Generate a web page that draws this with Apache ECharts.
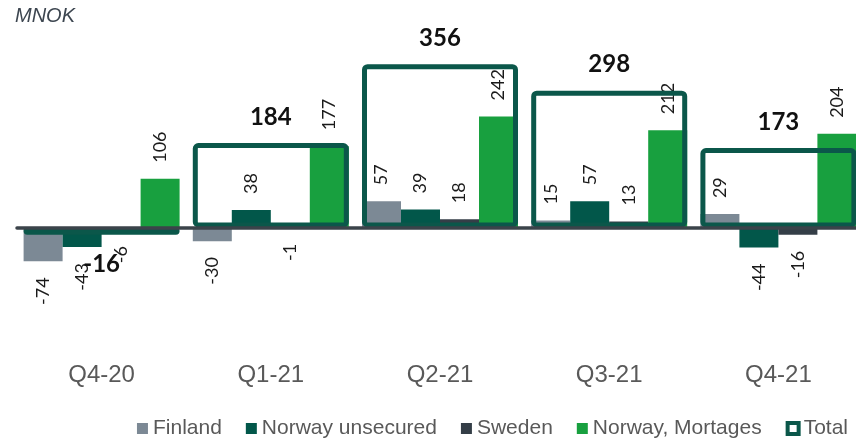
<!DOCTYPE html>
<html>
<head>
<meta charset="utf-8">
<script src="https://cdn.jsdelivr.net/npm/echarts@6/dist/echarts.min.js"></script>
<style>
  html, body { margin: 0; padding: 0; background: #fff; }
  #chart { width: 856px; height: 438px; }
</style>
</head>
<body>
<div id="chart"></div>
<script>
const categories = ['Q4-20', 'Q1-21', 'Q2-21', 'Q3-21', 'Q4-21']
const finland = [-74, -30, 57, 15, 29]
const norwayUnsecured = [-43, 38, 39, 57, -44]
const sweden = [-6, -1, 18, 13, -16]
const norwayMortgages = [106, 177, 242, 212, 204]
const total = [-16, 184, 356, 298, 173]

const colors = {
    finland: '#7c8995',
    unsecured: '#02574a',
    sweden: '#343e47',
    mortgages: '#18a03f',
    total: '#0b574a'
}

const valueFont = { fontFamily: 'Lato', fontSize: 18, color: '#1a1a1a' }

// rotated labels: above positive bars, below negative ones
const barLabel = v => v < 0
    ? { show: true, position: 'bottom', distance: 16, rotate: 90, align: 'right', verticalAlign: 'middle', ...valueFont }
    : { show: true, position: 'top', distance: 16, rotate: 90, align: 'left', verticalAlign: 'middle', ...valueFont }

const totalLabel = v => ({
    show: true,
    position: v < 0 ? 'bottom' : 'top',
    distance: v < 0 ? 18 : 14,
    fontFamily: 'Lato',
    fontWeight: 'bold',
    fontSize: 24,
    color: '#111'
})

const barSeries = (name, data, color) => ({
    name: name,
    type: 'bar',
    xAxisIndex: 0,
    barWidth: 39,
    barGap: '0%',
    z: 2,
    itemStyle: { color: color },
    data: data.map(v => ({ value: v, label: barLabel(v) }))
})

const chart = echarts.init(document.getElementById('chart'), null, { renderer: 'canvas' })

chart.setOption({
    animation: false,
    backgroundColor: '#fff',
    title: {
        text: 'MNOK',
        left: 10,
        top: 1,
        textStyle: { fontFamily: 'Liberation Sans', fontStyle: 'italic', fontWeight: 'normal', fontSize: 20, color: '#3d4650' }
    },
    legend: {
        right: 3,
        top: 413,
        itemWidth: 11,
        itemHeight: 11,
        itemGap: 24,
        icon: 'rect',
        textStyle: { fontFamily: 'Liberation Sans', fontSize: 21, color: '#595959' },
        data: [
            'Finland',
            'Norway unsecured',
            'Sweden',
            'Norway, Mortages',
            { name: 'Total', itemStyle: { color: '#fff', borderColor: colors.total, borderWidth: 4 } }
        ]
    },
    grid: { left: 17, width: 846, top: 44, bottom: 96, outerBoundsMode: 'none' },
    xAxis: [
        {
            type: 'category',
            data: categories,
            position: 'bottom',
            axisLine: { show: false, onZero: false },
            axisTick: { show: false },
            axisLabel: { color: '#595959', fontFamily: 'Liberation Sans', fontSize: 24, margin: 21 }
        },
        {
            // zero line
            type: 'category',
            data: categories,
            position: 'bottom',
            z: 10,
            axisLine: { show: true, onZero: true, lineStyle: { color: '#3b434a', width: 3.5 } },
            axisTick: { show: false },
            axisLabel: { show: false }
        }
    ],
    yAxis: { type: 'value', min: -250, max: 400, show: false },
    series: [
        barSeries('Finland', finland, colors.finland),
        barSeries('Norway unsecured', norwayUnsecured, colors.unsecured),
        barSeries('Sweden', sweden, colors.sweden),
        barSeries('Norway, Mortages', norwayMortgages, colors.mortgages),
        {
            name: 'Total',
            type: 'bar',
            xAxisIndex: 1,
            barWidth: 156,
            z: 3,
            itemStyle: { color: 'rgba(0,0,0,0)', borderColor: colors.total, borderWidth: 5, borderRadius: 3 },
            data: total.map(v => ({ value: v, label: totalLabel(v) }))
        }
    ]
})
</script>
</body>
</html>
